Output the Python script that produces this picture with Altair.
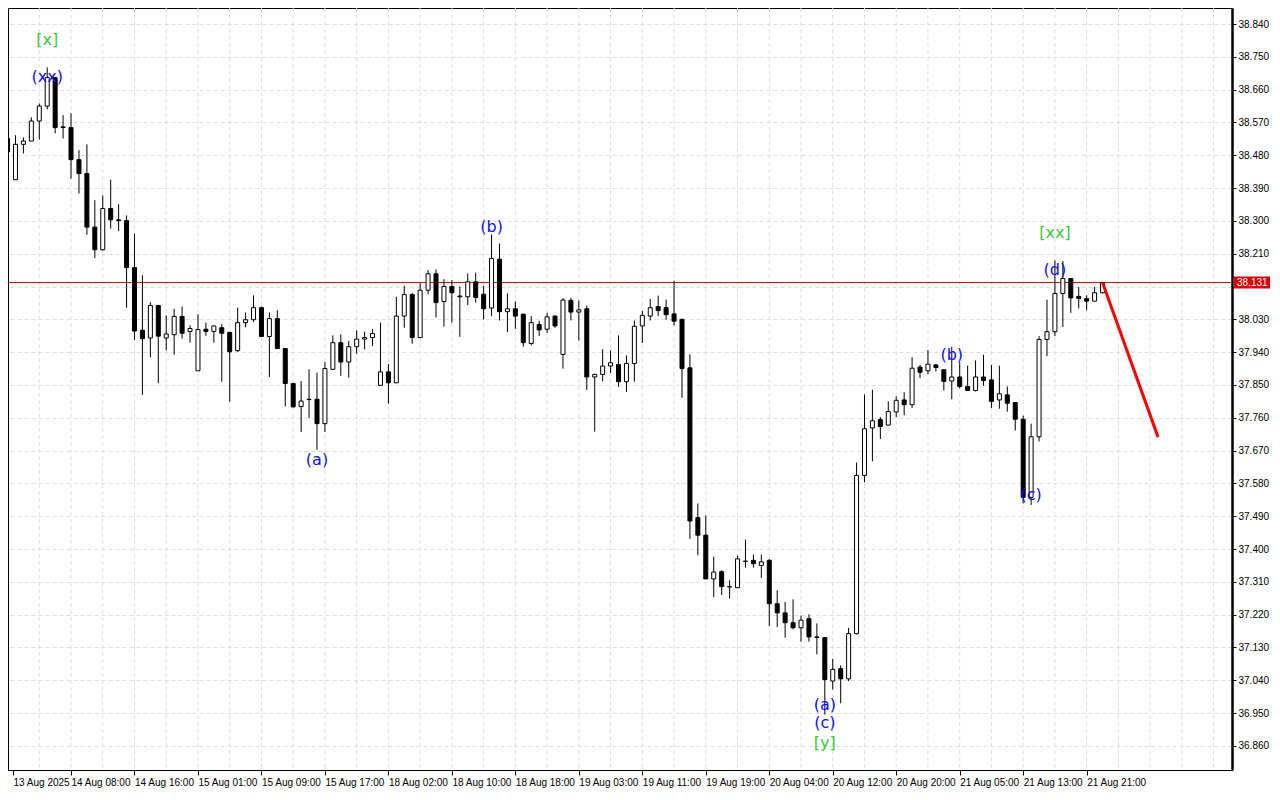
import json
import altair as alt
import pandas as pd

# ---------------- data (hourly candles, bar index 0..138) ----------------
opens = [38.526, 38.413, 38.510, 38.519, 38.574, 38.615, 38.693, 38.558, 38.556, 38.468,
         38.430, 38.283, 38.221, 38.334, 38.303, 38.301, 38.172, 38.000, 37.979, 38.068,
         37.979, 37.988, 38.038, 37.997, 37.889, 38.003, 37.997, 38.007, 37.994, 37.944,
         38.021, 38.029, 38.062, 37.983, 38.032, 37.950, 37.854, 37.791, 37.810, 37.811,
         37.744, 37.893, 37.966, 37.913, 37.955, 37.976, 37.980, 37.849, 37.886, 37.856,
         38.039, 38.098, 37.980, 38.110, 38.155, 38.079, 38.120, 38.094, 38.092, 38.133,
         38.099, 38.061, 38.195, 38.051, 38.059, 38.044, 37.964, 38.016, 38.003, 38.039,
         37.934, 38.082, 38.050, 38.059, 37.872, 37.879, 37.902, 37.906, 37.859, 37.909,
         38.012, 38.039, 38.065, 38.062, 38.045, 38.030, 37.897, 37.486, 37.438, 37.318,
         37.338, 37.297, 37.294, 37.367, 37.369, 37.355, 37.369, 37.250, 37.225, 37.198,
         37.184, 37.209, 37.159, 37.157, 37.038, 37.072, 37.044, 37.168, 37.602, 37.732,
         37.755, 37.740, 37.776, 37.809, 37.796, 37.899, 37.889, 37.905, 37.892, 37.861,
         37.872, 37.846, 37.835, 37.872, 37.864, 37.809, 37.823, 37.802, 37.756, 37.542,
         37.708, 37.975, 37.996, 38.101, 38.142, 38.093, 38.087, 38.080, 38.103]
highs = [38.540, 38.535, 38.529, 38.584, 38.622, 38.721, 38.695, 38.590, 38.595, 38.494,
         38.510, 38.357, 38.370, 38.413, 38.346, 38.315, 38.265, 38.151, 38.077, 38.070,
         38.041, 38.059, 38.065, 38.014, 38.044, 38.021, 38.012, 38.017, 37.996, 38.062,
         38.049, 38.096, 38.065, 38.049, 38.055, 37.950, 37.856, 37.861, 37.893, 37.884,
         37.913, 37.986, 37.989, 37.971, 38.000, 37.996, 38.003, 38.021, 37.907, 38.092,
         38.122, 38.103, 38.129, 38.165, 38.167, 38.140, 38.138, 38.120, 38.156, 38.158,
         38.122, 38.263, 38.238, 38.101, 38.079, 38.046, 38.039, 38.026, 38.048, 38.041,
         38.088, 38.089, 38.082, 38.068, 37.881, 37.948, 37.945, 37.986, 37.931, 38.027,
         38.053, 38.086, 38.095, 38.084, 38.136, 38.032, 37.934, 37.525, 37.492, 37.379,
         37.342, 37.314, 37.382, 37.426, 37.385, 37.385, 37.373, 37.287, 37.255, 37.262,
         37.218, 37.221, 37.196, 37.159, 37.099, 37.081, 37.184, 37.637, 37.824, 37.837,
         37.762, 37.805, 37.819, 37.830, 37.926, 37.905, 37.946, 37.907, 37.892, 37.955,
         37.912, 37.903, 37.917, 37.933, 37.905, 37.903, 37.846, 37.802, 37.766, 37.744,
         37.984, 38.084, 38.192, 38.190, 38.142, 38.119, 38.096, 38.119, 38.133]
lows = [38.480, 38.413, 38.485, 38.519, 38.523, 38.606, 38.540, 38.526, 38.416, 38.375,
        38.262, 38.198, 38.219, 38.279, 38.272, 38.062, 37.974, 37.823, 37.926, 37.855,
        37.945, 37.933, 37.977, 37.966, 37.889, 37.985, 37.966, 37.859, 37.804, 37.941,
        38.008, 38.023, 37.983, 37.872, 37.950, 37.791, 37.788, 37.721, 37.759, 37.672,
        37.721, 37.891, 37.875, 37.870, 37.936, 37.948, 37.957, 37.849, 37.799, 37.856,
        38.007, 37.963, 37.980, 38.099, 38.035, 38.010, 38.021, 37.982, 38.069, 38.076,
        38.030, 38.039, 38.027, 37.995, 38.004, 37.955, 37.959, 37.984, 37.993, 38.007,
        37.895, 38.027, 37.972, 37.836, 37.722, 37.860, 37.883, 37.845, 37.831, 37.859,
        37.965, 38.027, 38.039, 38.029, 38.013, 37.815, 37.428, 37.383, 37.318, 37.268,
        37.274, 37.264, 37.294, 37.349, 37.349, 37.321, 37.189, 37.186, 37.157, 37.180,
        37.146, 37.146, 37.111, 36.946, 37.015, 36.977, 37.038, 37.166, 37.583, 37.641,
        37.702, 37.740, 37.762, 37.767, 37.787, 37.869, 37.880, 37.887, 37.835, 37.811,
        37.841, 37.835, 37.832, 37.848, 37.787, 37.785, 37.777, 37.725, 37.525, 37.521,
        37.695, 37.929, 37.984, 38.009, 38.048, 38.060, 38.055, 38.080, 38.101]
closes = [38.489, 38.510, 38.519, 38.574, 38.615, 38.693, 38.556, 38.556, 38.468, 38.430,
          38.283, 38.221, 38.334, 38.303, 38.301, 38.172, 37.998, 37.977, 38.068, 37.984,
          37.990, 38.038, 37.992, 38.005, 38.002, 37.997, 38.012, 37.992, 37.941, 38.021,
          38.029, 38.062, 37.983, 38.032, 37.950, 37.854, 37.790, 37.806, 37.811, 37.744,
          37.895, 37.966, 37.913, 37.955, 37.976, 37.980, 37.991, 37.886, 37.856, 38.039,
          38.098, 37.980, 38.110, 38.155, 38.076, 38.120, 38.103, 38.092, 38.133, 38.090,
          38.059, 38.197, 38.051, 38.059, 38.039, 37.966, 38.021, 38.001, 38.037, 38.012,
          38.083, 38.050, 38.056, 37.872, 37.879, 37.902, 37.911, 37.859, 37.909, 38.011,
          38.041, 38.062, 38.054, 38.043, 38.025, 37.895, 37.477, 37.438, 37.318, 37.337,
          37.297, 37.296, 37.373, 37.366, 37.360, 37.365, 37.250, 37.225, 37.198, 37.184,
          37.205, 37.159, 37.158, 37.042, 37.070, 37.044, 37.168, 37.602, 37.730, 37.752,
          37.736, 37.777, 37.808, 37.796, 37.896, 37.885, 37.907, 37.898, 37.860, 37.872,
          37.846, 37.835, 37.872, 37.862, 37.805, 37.826, 37.800, 37.756, 37.542, 37.708,
          37.975, 37.996, 38.101, 38.142, 38.089, 38.087, 38.080, 38.103, 38.131]

tick_labels = ["13 Aug 2025", "14 Aug 08:00", "14 Aug 16:00", "15 Aug 01:00", "15 Aug 09:00",
               "15 Aug 17:00", "18 Aug 02:00", "18 Aug 10:00", "18 Aug 18:00", "19 Aug 03:00",
               "19 Aug 11:00", "19 Aug 19:00", "20 Aug 04:00", "20 Aug 12:00", "20 Aug 20:00",
               "21 Aug 05:00", "21 Aug 13:00", "21 Aug 21:00"]
price_ticks = [36.86, 36.95, 37.04, 37.13, 37.22, 37.31, 37.40, 37.49, 37.58, 37.67, 37.76,
               37.85, 37.94, 38.03, 38.12, 38.21, 38.30, 38.39, 38.48, 38.57, 38.66, 38.75, 38.84]

current_price = 38.131
forecast_idx = [138, 145]
forecast_price = [38.131, 37.707]

lab_text = ["[x]", "(xx)", "(a)", "(b)", "(a)", "(c)", "[y]", "(b)", "(c)", "(d)", "[xx]"]
lab_idx = [5, 5, 39, 61, 103, 103, 103, 119, 129, 132, 132]
lab_price = [38.796, 38.695, 37.644, 38.283, 36.972, 36.923, 36.868, 37.932, 37.548, 38.165, 38.267]
lab_kind = ["cycle", "wave", "wave", "wave", "wave", "wave", "cycle", "wave", "wave", "wave", "cycle"]

# ---------------- frames ----------------
n = len(opens)
df = pd.DataFrame({"idx": list(range(n)), "open": opens, "high": highs,
                   "low": lows, "close": closes})
df["dir"] = ["up" if c > o else "down" for o, c in zip(opens, closes)]

grid_df = pd.DataFrame({"idx": list(range(4, 156, 4))})
hline_df = pd.DataFrame({"price": [current_price]})
fc_df = pd.DataFrame({"idx": forecast_idx, "price": forecast_price})
lab_df = pd.DataFrame({"idx": lab_idx, "price": lab_price, "text": lab_text, "kind": lab_kind})
tag_df = pd.DataFrame({"price": [current_price], "text": [f"{current_price:.3f}"]})

FONT = "Liberation Sans"
xs = alt.Scale(domain=[0.6875, 153.6875], nice=False, zero=False)
ys = alt.Scale(domain=[36.794, 38.884], nice=False, zero=False)

tick_vals = [0.6875] + list(range(8, 8 * len(tick_labels), 8))
label_expr = json.dumps(tick_labels) + "[round(datum.value / 8)]"
# the current-price tag covers the 38.120 label, as in the terminal
ylabel_expr = f"abs(datum.value - {current_price}) < 0.03 ? '' : format(datum.value, '.3f')"

xaxis = alt.Axis(values=tick_vals, labelExpr=label_expr, title=None, grid=False,
                 orient="bottom", domainColor="black", domainWidth=1, tickColor="black",
                 tickSize=5, labelAlign="left", labelPadding=2, labelFont=FONT,
                 labelFontSize=10, labelColor="black", labelOverlap=False, labelFlush=False)
yaxis = alt.Axis(values=price_ticks, labelExpr=ylabel_expr, title=None, orient="right",
                 grid=True, gridColor="#dedede", gridDash=[4, 3], gridWidth=1,
                 domainColor="black", domainWidth=2.5, tickColor="black", tickSize=4,
                 labelPadding=2, labelFont=FONT, labelFontSize=10, labelColor="black",
                 labelOverlap=False, labelFlush=False)

vgrid = alt.Chart(grid_df).mark_rule(color="#dedede", strokeDash=[4, 3], strokeWidth=1,
                                      clip=True).encode(
    x=alt.X("idx:Q", scale=xs, axis=xaxis))

hline = alt.Chart(hline_df).mark_rule(color="#dd0000", strokeWidth=1).encode(
    y=alt.Y("price:Q", scale=ys, axis=yaxis))

wicks = alt.Chart(df).mark_rule(color="black", strokeWidth=1, clip=True).encode(
    x=alt.X("idx:Q", scale=xs, axis=xaxis),
    y=alt.Y("low:Q", scale=ys, axis=yaxis),
    y2="high:Q")

bodies = alt.Chart(df).mark_bar(size=4, stroke="black", strokeWidth=1, clip=True).encode(
    x=alt.X("idx:Q", scale=xs, axis=xaxis),
    y=alt.Y("open:Q", scale=ys, axis=yaxis),
    y2="close:Q",
    fill=alt.Fill("dir:N", scale=alt.Scale(domain=["up", "down"], range=["white", "black"]),
                  legend=None))

forecast = alt.Chart(fc_df).mark_line(color="#ff0000", strokeWidth=3).encode(
    x=alt.X("idx:Q", scale=xs, axis=xaxis),
    y=alt.Y("price:Q", scale=ys, axis=yaxis))

labels = alt.Chart(lab_df).mark_text(font="DejaVu Sans", fontSize=16, align="center",
                                      baseline="middle").encode(
    x=alt.X("idx:Q", scale=xs, axis=xaxis),
    y=alt.Y("price:Q", scale=ys, axis=yaxis),
    text="text:N",
    color=alt.Color("kind:N", scale=alt.Scale(domain=["wave", "cycle"],
                                              range=["#1010ff", "#3cc83c"]), legend=None))

tag_box = alt.Chart(tag_df).mark_rule(color="#dd0000", strokeWidth=12).encode(
    x=alt.value(1226), x2=alt.value(1262),
    y=alt.Y("price:Q", scale=ys, axis=yaxis))

tag_text = alt.Chart(tag_df).mark_text(font=FONT, fontSize=10, color="white", align="left",
                                        baseline="middle").encode(
    x=alt.value(1229),
    y=alt.Y("price:Q", scale=ys, axis=yaxis),
    text="text:N")

chart = alt.layer(vgrid, hline, wicks, bodies, forecast, labels, tag_box, tag_text).properties(
    width=1224, height=762, background="white",
    padding={"left": 0, "top": 0, "right": 40, "bottom": 18},
    autosize=alt.AutoSizeParams(type="none")
).resolve_scale(fill="independent", color="independent").configure_view(
    stroke="black", strokeWidth=1
)

chart.save("out.html", embed_options={"renderer": "svg", "actions": False})
